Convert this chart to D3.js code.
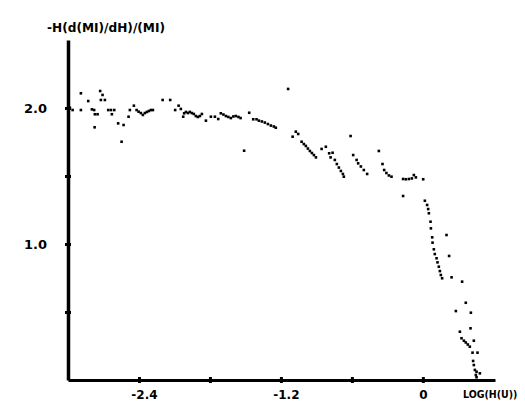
<!DOCTYPE html>
<html><head><meta charset="utf-8">
<script src="https://cdn.jsdelivr.net/npm/d3@7"></script>
<style>body{margin:0;background:#fff}</style>
</head><body><svg id="c" width="525" height="403"></svg>
<script>
const logH = [
-2.984,-2.961,-2.891,-2.891,-2.829,-2.798,-2.779,-2.773,-2.750,-2.775,-2.728,-2.708,-2.722,-2.688,-2.660,-2.637,-2.609,-2.629,-2.576,-2.530,-2.547,-2.488,-2.477,-2.443,-2.420,-2.403,
-2.384,-2.367,-2.350,-2.333,-2.316,-2.299,-2.282,-2.200,-2.136,-2.094,-2.065,-2.046,-2.026,-2.018,
-2.003,-1.986,-1.970,-1.953,-1.936,-1.919,-1.902,-1.885,-1.868,-1.834,-1.792,-1.758,-1.730,
-1.708,-1.686,-1.665,-1.644,-1.623,-1.602,-1.581,-1.559,-1.541,-1.511,-1.468,-1.434,-1.406,
-1.386,-1.361,-1.336,-1.310,-1.285,-1.260,-1.243,-1.139,
-1.101,-1.074,-1.054,-1.025,-1.006,-0.989,-0.972,-0.955,-0.938,-0.921,-0.904,
-0.856,-0.820,-0.792,-0.763,-0.780,-0.744,-0.727,-0.710,-0.693,-0.676,-0.668,
-0.611,-0.589,-0.560,-0.547,-0.524,-0.499,-0.471,-0.372,-0.341,-0.327,-0.308,-0.287,-0.265,
-0.167,-0.144,-0.118,-0.093,-0.076,-0.059,0.003,
-0.167,0.017,0.036,0.045,0.051,0.065,0.068,0.079,0.082,0.093,0.101,0.116,0.124,0.135,0.144,0.152,0.163,0.200,0.222,0.243,
0.332,0.363,0.279,0.406,0.403,0.313,0.327,0.347,0.363,0.380,0.397,0.431,0.420,0.462,0.425,0.431,0.440,0.454,0.482,0.448,0.454
];
const ratio = [
2.002,1.985,2.108,1.985,2.051,1.990,1.985,1.954,1.954,1.858,2.125,2.096,2.059,2.059,1.985,1.985,1.985,1.954,1.887,1.875,1.752,1.936,1.985,2.017,1.985,1.973,
1.963,1.949,1.963,1.971,1.978,1.985,1.985,2.059,2.059,1.985,2.017,1.993,1.936,1.961,
1.971,1.963,1.971,1.963,1.956,1.941,1.934,1.941,1.956,1.907,1.936,1.936,1.919,
1.961,1.952,1.941,1.934,1.926,1.938,1.941,1.934,1.926,1.686,1.965,1.917,1.917,
1.907,1.901,1.893,1.882,1.871,1.864,1.855,2.140,
1.789,1.826,1.809,1.752,1.735,1.721,1.702,1.684,1.669,1.654,1.637,
1.699,1.715,1.667,1.671,1.637,1.618,1.588,1.562,1.537,1.515,1.495,
1.794,1.654,1.618,1.593,1.570,1.544,1.515,1.684,1.588,1.544,1.522,1.504,1.495,
1.478,1.476,1.478,1.482,1.507,1.490,1.476,
1.353,1.318,1.287,1.257,1.226,1.164,1.115,1.049,1.010,0.961,0.926,0.895,0.865,0.833,0.801,0.772,0.748,1.066,0.912,0.755,
0.723,0.568,0.507,0.495,0.380,0.355,0.307,0.289,0.276,0.261,0.245,0.289,0.201,0.201,0.140,0.110,0.074,0.061,0.049,0.037,0.020
];
const xTicks = [-2.4,-1.8,-1.2,-0.6,0];
const xTickLabels = ["-2.4","","-1.2","","0"];
const yTicks = [0.5,1.0,1.5,2.0];
const yTickLabels = ["","1.0","","2.0"];
const yTitle = "-H(d(MI)/dH)/(MI)";
const xTitle = "LOG(H(U))";

const svg = d3.select("#c");
const x = d3.scaleLinear().domain([-3.0, 0.61]).range([68, 495]);
const y = d3.scaleLinear().domain([0, 2.5]).range([380, 40]);
const font = "'DejaVu Sans', sans-serif";

// points
const pts = logH.map((v,i)=>[v, ratio[i]]);
svg.append("g").selectAll("rect").data(pts).join("rect")
  .attr("x", d=>x(d[0])-1.3).attr("y", d=>y(d[1])-1.3)
  .attr("width",2.6).attr("height",2.6).attr("fill","#000");

// y axis
const ya = svg.append("g").attr("transform","translate(68,0)")
  .call(d3.axisLeft(y).tickValues(yTicks).tickSize(3).tickSizeOuter(0)
    .tickFormat((d,i)=>yTickLabels[i]).tickPadding(18));
ya.select(".domain").attr("stroke","#000").attr("stroke-width",3.5);
ya.selectAll(".tick line").attr("x1",3).attr("x2",-3).attr("stroke-width",3);
ya.selectAll(".tick text").attr("font-family",font).attr("font-weight","bold")
  .attr("font-size",13).attr("fill","#000");

// x axis
const xa = svg.append("g").attr("transform","translate(0,380)")
  .call(d3.axisBottom(x).tickValues(xTicks).tickSize(3).tickSizeOuter(0)
    .tickFormat((d,i)=>xTickLabels[i]).tickPadding(7));
xa.select(".domain").attr("stroke","#000").attr("stroke-width",3);
xa.selectAll(".tick line").attr("y1",-3).attr("y2",3).attr("stroke-width",3);
xa.selectAll(".tick text").attr("font-family",font).attr("font-weight","bold")
  .attr("font-size",12).attr("fill","#000")
  .attr("dx",(d,i)=> xTickLabels[i].startsWith("-") ? 5 : 0);

// titles
svg.append("text").attr("x",47).attr("y",32).text(yTitle)
  .attr("font-family","'DejaVu Sans Condensed', 'DejaVu Sans', sans-serif").attr("font-weight","bold")
  .attr("font-size",13).attr("textLength",118).attr("lengthAdjust","spacingAndGlyphs");
svg.append("text").attr("x",463).attr("y",398).text(xTitle)
  .attr("font-family","'DejaVu Sans Condensed', 'DejaVu Sans', sans-serif").attr("font-weight","bold")
  .attr("font-size",10.5);
</script></body></html>
